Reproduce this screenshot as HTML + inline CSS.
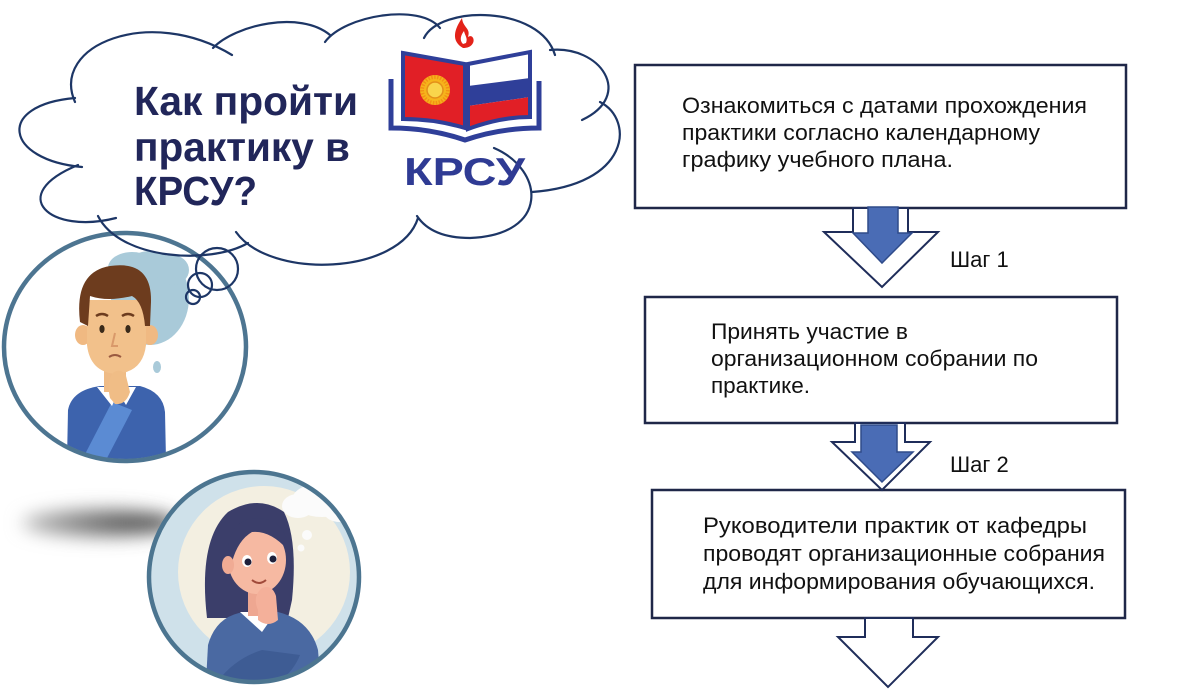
<!DOCTYPE html>
<html><head><meta charset="utf-8"><style>
html,body{margin:0;padding:0;background:#fff;}
svg{display:block;}
.t{font-family:"Liberation Sans",Arial,sans-serif;}
</style></head><body>
<svg width="1200" height="700" viewBox="0 0 1200 700" xmlns="http://www.w3.org/2000/svg">
<defs>
  <filter id="blur" x="-50%" y="-200%" width="200%" height="500%"><feGaussianBlur stdDeviation="9"/></filter>
  <linearGradient id="shg" x1="0" x2="1" y1="0" y2="0">
    <stop offset="0" stop-color="#bbb"/><stop offset="0.6" stop-color="#666"/><stop offset="1" stop-color="#444"/>
  </linearGradient>
  <clipPath id="manclip"><ellipse cx="125" cy="347" rx="119" ry="112"/></clipPath>
  <clipPath id="womclip"><circle cx="254" cy="577" r="104"/></clipPath>
  <clipPath id="rpage"><path d="M468,64 L530,52 L530,117 Q500,117 468,129 Z"/></clipPath>
</defs>
<rect width="1200" height="700" fill="#fff"/>

<!-- shadow -->
<ellipse cx="100" cy="523" rx="78" ry="13" fill="url(#shg)" filter="url(#blur)"/>

<!-- man circle -->
<g clip-path="url(#manclip)">
  <ellipse cx="150" cy="298" rx="39" ry="47" fill="#a9cad9"/>
  <ellipse cx="132" cy="268" rx="24" ry="16" fill="#a9cad9"/>
  <ellipse cx="172" cy="270" rx="17" ry="15" fill="#a9cad9"/>
  <ellipse cx="157" cy="367" rx="4" ry="6" fill="#a9cad9"/>
  <path d="M67,460 L68,410 Q72,390 100,386 L140,386 Q163,392 165,412 L166,460 Z" fill="#3d63ad"/>
  <path d="M82,460 L112,402 L132,410 L106,460 Z" fill="#5b8bd3"/>
  <path d="M97,387 L112,406 L118,392 L126,405 L136,387 Z" fill="#fff"/>
  <rect x="104" y="362" width="22" height="30" fill="#efbb85"/>
  <ellipse cx="83" cy="335" rx="8" ry="10" fill="#f0b982"/>
  <ellipse cx="150" cy="335" rx="8" ry="10" fill="#f0b982"/>
  <path d="M87,300 L87,345 Q90,372 116,374 Q143,372 146,345 L146,300 Z" fill="#f2c18b"/>
  <path d="M80,322 Q74,272 110,266 Q152,260 151,302 L150,326 L145,326 Q143,302 132,296 Q108,302 90,296 L88,326 Z" fill="#6d3c1e"/>
  <path d="M96,316 Q102,312 108,316 M122,316 Q128,312 134,316" stroke="#6d3c1e" stroke-width="2.5" fill="none"/>
  <ellipse cx="102" cy="329" rx="2.6" ry="4" fill="#3a2a1a"/>
  <ellipse cx="128" cy="329" rx="2.6" ry="4" fill="#3a2a1a"/>
  <path d="M115,333 L112,346 L118,346" stroke="#d9996a" stroke-width="2" fill="none"/>
  <path d="M109,357 Q115,353 121,357" stroke="#9a5a40" stroke-width="2" fill="none"/>
  <path d="M110,398 Q106,380 114,372 Q122,368 126,376 L130,392 Q126,405 115,404 Z" fill="#f0bd86"/>
</g>
<ellipse cx="125" cy="347" rx="121" ry="114" fill="none" stroke="#4d7591" stroke-width="4.5"/>

<!-- woman circle -->
<circle cx="254" cy="577" r="105" fill="#cfe1ea"/>
<g clip-path="url(#womclip)">
  <circle cx="264" cy="572" r="86" fill="#f3efe1"/>
  <ellipse cx="322" cy="500" rx="30" ry="17" fill="#fbfbfb"/>
  <ellipse cx="298" cy="506" rx="16" ry="12" fill="#fbfbfb"/>
  <ellipse cx="340" cy="512" rx="16" ry="10" fill="#fbfbfb"/>
  <circle cx="307" cy="535" r="5" fill="#fbfbfb"/>
  <circle cx="301" cy="548" r="3.5" fill="#fbfbfb"/>
  <path d="M207,618 Q198,540 228,512 Q258,494 284,512 Q298,540 292,600 L288,618 Z" fill="#3b3e6a"/>
  <path d="M205,700 L208,645 Q216,616 244,612 L278,612 Q310,620 318,650 L322,700 Z" fill="#4a69a2"/>
  <path d="M240,612 L262,632 L276,612 Z" fill="#fff"/>
  <rect x="248" y="588" width="20" height="28" fill="#eea791"/>
  <ellipse cx="257" cy="560" rx="29" ry="34" fill="#f6b9a2"/>
  <path d="M228,560 Q226,520 256,518 Q286,518 288,550 Q270,530 252,532 Q238,540 232,562 Z" fill="#3b3e6a"/>
  <ellipse cx="228" cy="565" rx="6" ry="9" fill="#f0ab94"/>
  <ellipse cx="247" cy="561" rx="5" ry="6" fill="#fff"/>
  <ellipse cx="272" cy="558" rx="5" ry="6" fill="#fff"/>
  <circle cx="248" cy="562" r="3.5" fill="#1e1f3a"/>
  <circle cx="273" cy="559" r="3.5" fill="#1e1f3a"/>
  <path d="M252,580 Q259,586 266,580" stroke="#a04a3a" stroke-width="2" fill="none"/>
  <path d="M258,610 Q252,596 262,588 Q272,584 276,596 L278,620 Q268,628 258,620 Z" fill="#f4b09a"/>
  <path d="M212,690 Q230,660 262,650 L300,655 Q290,680 262,690 Z" fill="#3e5c94"/>
  <path d="M214,684 Q226,678 236,682" stroke="#f4b09a" stroke-width="5" fill="none"/>
</g>
<circle cx="254" cy="577" r="105" fill="none" stroke="#4c7590" stroke-width="4.5"/>

<!-- thought cloud -->
<g fill="none" stroke="#1d3666" stroke-width="2.2" stroke-linecap="round">
  <path d="M75,102 C50,45 150,5 232,55"/>
  <path d="M213,48 C235,25 300,10 330,35"/>
  <path d="M325,42 C345,15 420,3 440,28"/>
  <path d="M424,38 C440,5 540,5 555,55"/>
  <path d="M550,50 C600,45 635,95 582,120"/>
  <path d="M600,102 C635,120 630,185 532,192"/>
  <path d="M494,148 C545,170 550,235 470,238 C440,238 425,228 417,216"/>
  <path d="M418,218 C400,275 270,280 236,232"/>
  <path d="M248,243 C210,265 120,260 98,216"/>
  <path d="M116,218 C50,235 5,195 78,165"/>
  <path d="M82,167 C5,160 -5,105 75,98"/>
  <circle cx="217" cy="269" r="21"/>
  <circle cx="200" cy="285" r="12"/>
  <circle cx="193" cy="297" r="7"/>
</g>

<!-- title -->
<g class="t" font-weight="bold" font-size="41" fill="#21265a">
  <text x="134" y="115" textLength="224" lengthAdjust="spacingAndGlyphs">Как пройти</text>
  <text x="134" y="161" textLength="216" lengthAdjust="spacingAndGlyphs">практику в</text>
  <text x="134" y="205" textLength="123" lengthAdjust="spacingAndGlyphs">КРСУ?</text>
</g>

<!-- logo -->
<path d="M463,48 C451,41 454,30 462,18 C463,28 471,28 468,37 C472,34 475,39 473,43 C471,47 467,48 463,48 Z" fill="#e32219"/>
<path d="M463,44 C459,40 461,35 464,31 C465,36 468,38 466,43 Z" fill="#fff"/>
<path d="M391,79 L391,128 Q430,128 465,140 Q500,128 539,128 L539,81" fill="none" stroke="#2f3f99" stroke-width="5"/>
<path d="M403,53 L465,64 L465,128 Q435,119 403,119 Z" fill="#e11f26" stroke="#2f3f99" stroke-width="4"/>
<g clip-path="url(#rpage)">
  <rect x="465" y="48" width="70" height="85" fill="#fff"/>
  <path d="M468,86 L530,78 L530,97 L468,106 Z" fill="#2f3f99"/>
  <path d="M468,106 L530,97 L530,133 L468,133 Z" fill="#e11f26"/>
</g>
<path d="M468,64 L530,52 L530,117 Q500,117 468,129 Z" fill="none" stroke="#2f3f99" stroke-width="4"/>
<circle cx="435" cy="90" r="15" fill="#f6b41b"/>
<circle cx="435" cy="90" r="13" fill="none" stroke="#f39015" stroke-width="4" stroke-dasharray="1.5 1.5"/>
<circle cx="435" cy="90" r="8" fill="#f9d54c" stroke="#e4901a" stroke-width="1.5"/>
<text class="t" x="404" y="185" font-size="39" font-weight="bold" fill="#2f3b94" textLength="121" lengthAdjust="spacingAndGlyphs">КРСУ</text>

<!-- flow boxes -->
<g fill="#fff" stroke="#1f2748" stroke-width="2.5">
  <rect x="635" y="65" width="491" height="143"/>
  <rect x="645" y="297" width="472" height="126"/>
  <rect x="652" y="490" width="473" height="128"/>
</g>

<!-- arrows -->
<g stroke="#1f2d5a" stroke-width="2" fill="#fff" stroke-linejoin="miter">
  <path d="M853,208 L908,208 L908,232 L938,232 L882,287 L824,232 L853,232 Z"/>
  <path d="M855,423 L905,423 L905,442 L930,442 L882,490 L832,442 L855,442 Z"/>
  <path d="M865,618 L913,618 L913,637 L938,637 L888,687 L838,637 L865,637 Z"/>
</g>
<g fill="#4a6cb5" stroke="#2f4b8a" stroke-width="1.5">
  <path d="M868,207 L898,207 L898,233 L912,233 L882,263 L853,233 L868,233 Z"/>
  <path d="M861,425 L897,425 L897,452 L913,452 L882,482 L852,452 L861,452 Z"/>
</g>

<!-- texts -->
<g class="t" font-size="22" fill="#111">
  <text x="682" y="113" textLength="405" lengthAdjust="spacingAndGlyphs">Ознакомиться с датами прохождения</text>
  <text x="682" y="140" textLength="358" lengthAdjust="spacingAndGlyphs">практики согласно календарному</text>
  <text x="682" y="167" textLength="271" lengthAdjust="spacingAndGlyphs">графику учебного плана.</text>

  <text x="711" y="339" textLength="197" lengthAdjust="spacingAndGlyphs">Принять участие в</text>
  <text x="711" y="366" textLength="327" lengthAdjust="spacingAndGlyphs">организационном собрании по</text>
  <text x="711" y="393" textLength="99" lengthAdjust="spacingAndGlyphs">практике.</text>

  <text x="703" y="533" textLength="384" lengthAdjust="spacingAndGlyphs">Руководители практик от кафедры</text>
  <text x="703" y="561" textLength="402" lengthAdjust="spacingAndGlyphs">проводят организационные собрания</text>
  <text x="703" y="589" textLength="392" lengthAdjust="spacingAndGlyphs">для информирования обучающихся.</text>

  <text x="950" y="267">Шаг 1</text>
  <text x="950" y="472">Шаг 2</text>
</g>
</svg>
</body></html>
